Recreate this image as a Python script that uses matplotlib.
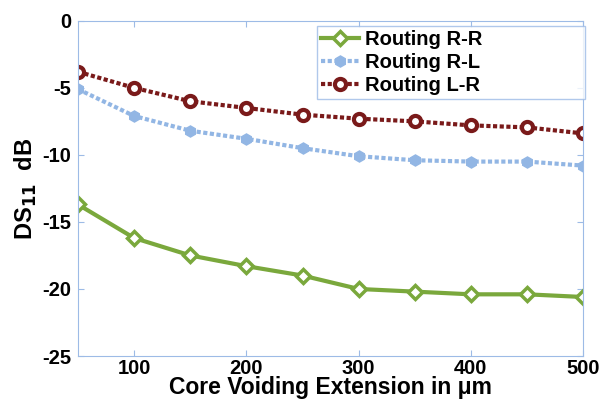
import matplotlib
matplotlib.use("Agg")
from matplotlib import pyplot as plt

plt.rcParams["font.family"] = ["Liberation Sans", "DejaVu Sans"]
plt.rcParams["font.weight"] = "bold"
plt.rcParams["axes.unicode_minus"] = False

# Data
extension = [50, 100, 150, 200, 250, 300, 350, 400, 450, 500]
routing_rr = [-13.7, -16.2, -17.5, -18.3, -19.0, -20.0, -20.2, -20.4, -20.4, -20.6]
routing_rl = [-5.1, -7.1, -8.2, -8.8, -9.5, -10.1, -10.4, -10.5, -10.5, -10.8]
routing_lr = [-3.8, -5.0, -6.0, -6.5, -7.0, -7.3, -7.5, -7.8, -7.95, -8.4]

green = "#7aa83c"
blue = "#92b6e4"
darkred = "#7a1a1a"
axis_col = "#9dbbe6"

fig = plt.figure(figsize=(6, 4), dpi=100)
ax = fig.add_axes([0.13, 0.11, 0.842, 0.838])

ax.plot(extension, routing_rr, c=green, lw=3, marker="D", ms=7,
        mfc="white", mec=green, mew=2.5, label="Routing R-R")
ax.plot(extension, routing_rl, c=blue, lw=3, ls=(0, (1, 0.6)), marker="h",
        ms=8, mfc=blue, mec=blue, label="Routing R-L")
ax.plot(extension, routing_lr, c=darkred, lw=3, ls=(0, (1, 0.6)), marker="o",
        ms=8, mfc="white", mec=darkred, mew=3, label="Routing L-R")

ax.set_xlim(50, 500)
ax.set_ylim(-25, 0)
ax.set_xticks([100, 200, 300, 400, 500])
ax.set_yticks([-25, -20, -15, -10, -5, 0])

for s in ax.spines.values():
    s.set_color(axis_col)
ax.tick_params(axis="both", which="major", labelsize=14.5, direction="in",
               color=axis_col, top=True, right=True, length=4)
ax.tick_params(axis="x", pad=2)
ax.tick_params(axis="y", pad=5)

ax.set_xlabel("Core Voiding Extension in \u03bcm", fontsize=16.5, fontweight="bold",
              labelpad=-1)
ax.set_ylabel("DS$_{\\mathbf{11}}$  dB", fontsize=17, fontweight="bold",
              labelpad=2)

# legend box is wider than its content in the reference
leg = ax.legend(loc="upper left", bbox_to_anchor=(0.473, 0.761, 0.531, 0.224),
                mode="expand", fontsize=14.5, frameon=True, fancybox=False,
                borderaxespad=0, handlelength=1.9, handletextpad=0.3,
                labelspacing=0.2, borderpad=0.2)
leg.get_frame().set_edgecolor(axis_col)
leg.get_frame().set_linewidth(1)

fig.savefig("out.png")
